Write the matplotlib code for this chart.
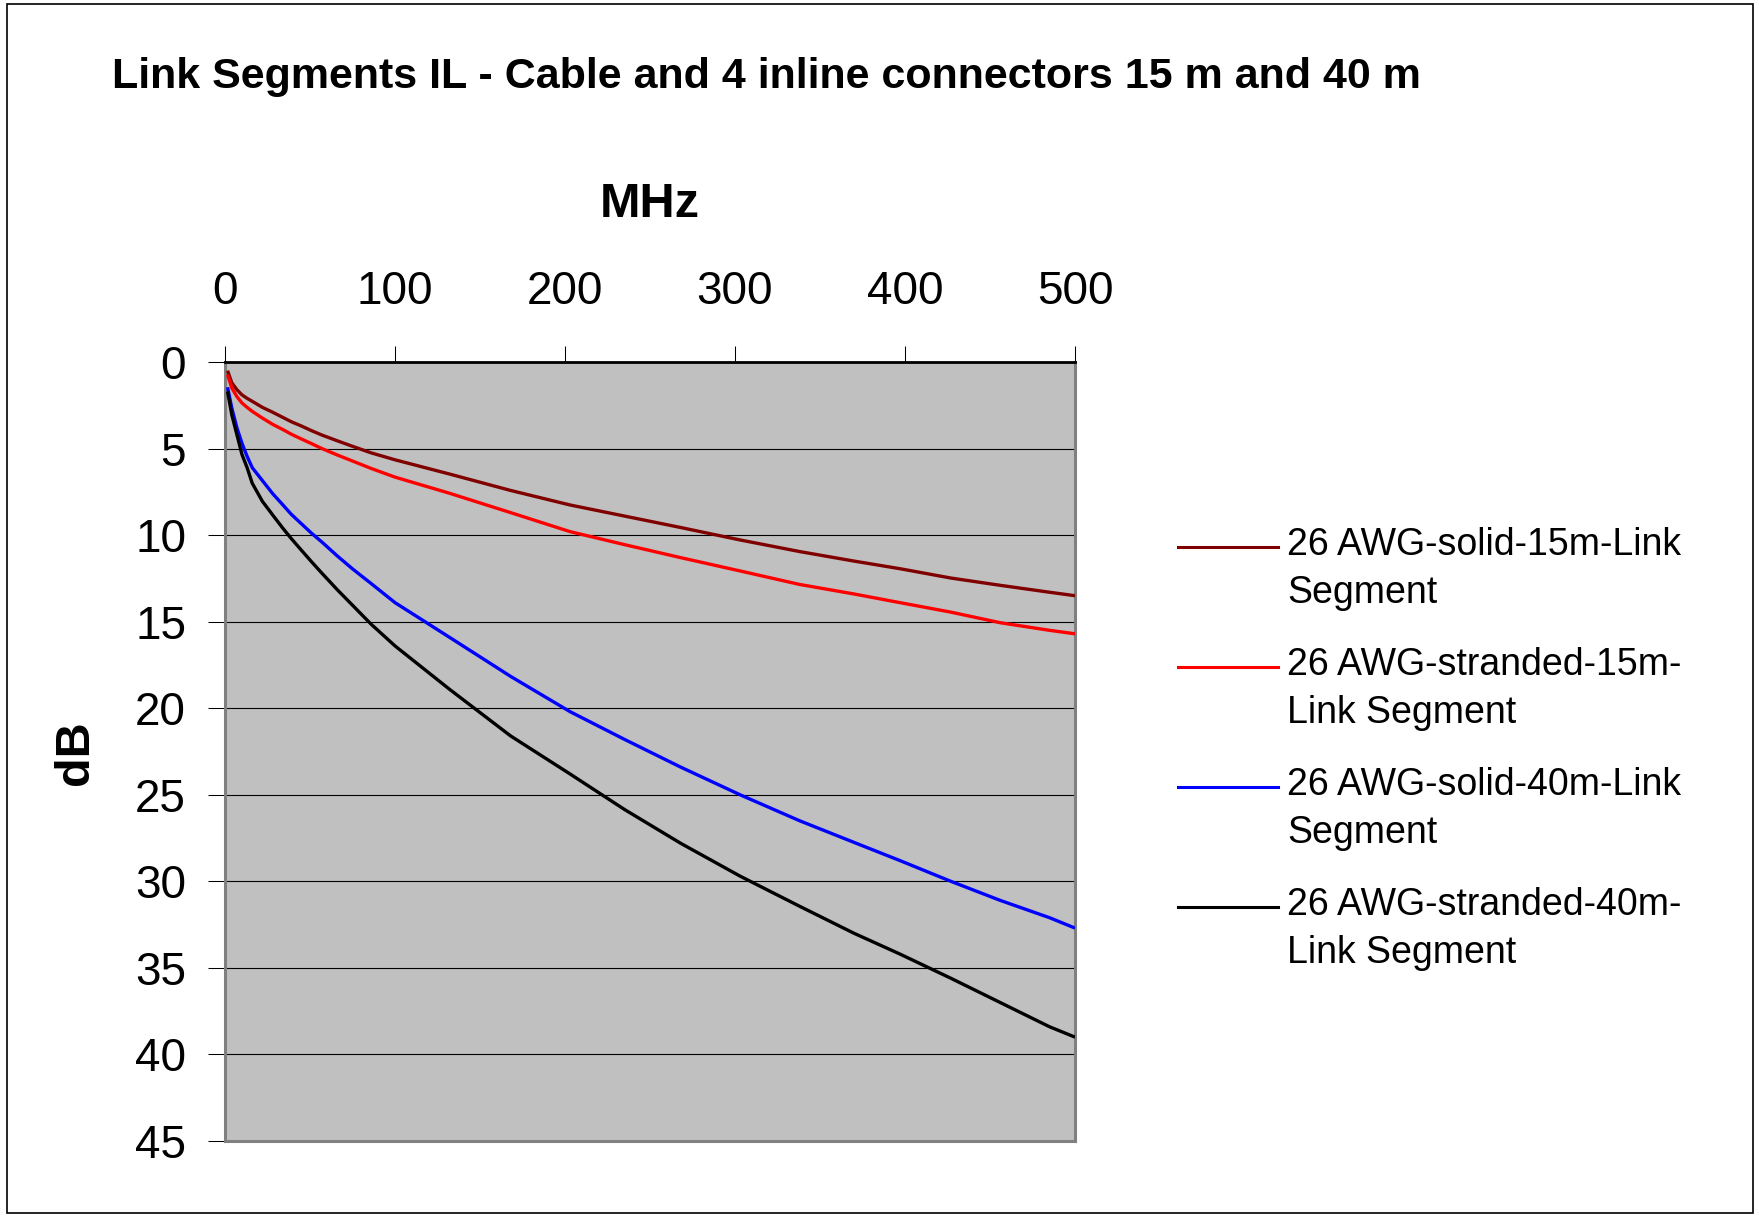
import matplotlib
matplotlib.use('Agg')
import matplotlib.pyplot as plt
from matplotlib.lines import Line2D
from matplotlib.patches import Rectangle

W, H = 1759, 1217
DPI = 100
plt.rcParams['font.family'] = ['Liberation Sans', 'DejaVu Sans']

# ---- data ----
freq = [1.5, 4, 7, 10, 13, 16, 22, 28, 34, 39, 45, 51, 57, 66, 75, 86, 100,
        132, 168, 203, 235, 268, 303, 338, 370, 397, 427, 456, 485, 500]
solid_15m = [0.5, 1.2, 1.6, 1.9, 2.1, 2.27, 2.62, 2.9, 3.2, 3.45, 3.7, 3.97,
             4.22, 4.55, 4.87, 5.25, 5.65, 6.47, 7.42, 8.26, 8.9, 9.56, 10.28,
             10.95, 11.5, 11.94, 12.48, 12.9, 13.3, 13.5]
stranded_15m = [0.73, 1.5, 2.0, 2.37, 2.62, 2.85, 3.24, 3.6, 3.9, 4.17, 4.45,
                4.72, 5.0, 5.37, 5.72, 6.15, 6.65, 7.58, 8.7, 9.8, 10.55, 11.3,
                12.07, 12.85, 13.4, 13.9, 14.45, 15.06, 15.5, 15.7]
solid_40m = [1.46, 2.66, 3.8, 4.7, 5.45, 6.1, 6.85, 7.6, 8.25, 8.8, 9.35, 9.9,
             10.4, 11.2, 11.95, 12.8, 13.9, 15.9, 18.16, 20.2, 21.8, 23.4,
             25.0, 26.5, 27.75, 28.8, 30.0, 31.1, 32.1, 32.7]
stranded_40m = [1.7, 3.05, 4.2, 5.35, 6.1, 7.0, 8.05, 8.83, 9.6, 10.2, 10.88,
                11.55, 12.2, 13.15, 14.05, 15.15, 16.4, 18.9, 21.6, 23.8, 25.85,
                27.8, 29.7, 31.44, 33.0, 34.2, 35.6, 37.0, 38.4, 39.0]

series_labels = ["26 AWG-solid-15m-Link\nSegment",
                 "26 AWG-stranded-15m-\nLink Segment",
                 "26 AWG-solid-40m-Link\nSegment",
                 "26 AWG-stranded-40m-\nLink Segment"]
series_colors = ["#800000", "#FF0000", "#0000FF", "#000000"]
x_ticks = [0, 100, 200, 300, 400, 500]
y_ticks = [0, 5, 10, 15, 20, 25, 30, 35, 40, 45]

title = "Link Segments IL - Cable and 4 inline connectors 15 m and 40 m"
x_label = "MHz"
y_label = "dB"

# ---- figure ----
fig = plt.figure(figsize=(W / DPI, H / DPI), dpi=DPI)
fig.patch.set_facecolor('white')

def fx(x):
    return x / W

def fy(y):
    return 1 - y / H

# figure border
fig.patches.append(Rectangle((fx(7), fy(1213)), fx(1753) - fx(7), fy(4) - fy(1213),
                             transform=fig.transFigure, fill=False,
                             edgecolor='black', lw=1.2))

ax = fig.add_axes([fx(225), fy(1141), (1075 - 225) / W, (1141 - 362) / H])
ax.set_facecolor('#C0C0C0')

all_series = [solid_15m, stranded_15m, solid_40m, stranded_40m]
for vals, col in zip(all_series, series_colors):
    ax.plot(freq, vals, color=col, lw=2.4, solid_joinstyle='round',
            solid_capstyle='butt', zorder=3)

ax.set_xlim(0, 500)
ax.set_ylim(45, 0)
ax.set_xticks(x_ticks)
ax.set_yticks(y_ticks)
ax.xaxis.tick_top()
ax.tick_params(axis='x', direction='out', length=11.5, width=0.75,
               labelsize=33, pad=23, colors='black')
ax.tick_params(axis='y', direction='out', length=12, width=0.75,
               labelsize=33, pad=16, colors='black')
ax.grid(axis='y', color='black', lw=0.8, zorder=1)
ax.grid(axis='x', visible=False)
ax.set_axisbelow(True)
for s in ['left', 'right', 'bottom']:
    ax.spines[s].set_color('#808080')
    ax.spines[s].set_linewidth(2.2)
ax.spines['top'].set_color('black')
ax.spines['top'].set_linewidth(2.0)

# titles
fig.text(fx(112), fy(88), title, fontsize=31, fontweight='bold',
         ha='left', va='baseline')
fig.text(fx(650), fy(217), x_label, fontsize=35, fontweight='bold',
         ha='center', va='baseline')
fig.text(fx(76), fy(753), y_label, fontsize=35, fontweight='bold',
         ha='center', va='center', rotation=90)

# legend (manual)
for i, (lab, col) in enumerate(zip(series_labels, series_colors)):
    yl = 547 + 120 * i
    fig.add_artist(Line2D([fx(1178), fx(1278)], [fy(yl), fy(yl)],
                          transform=fig.transFigure, color=col, lw=2.2))
    fig.text(fx(1287), fy(527 + 120 * i), lab, fontsize=27, ha='left',
             va='top', linespacing=1.43)

fig.savefig('out.png', dpi=DPI, facecolor='white')
